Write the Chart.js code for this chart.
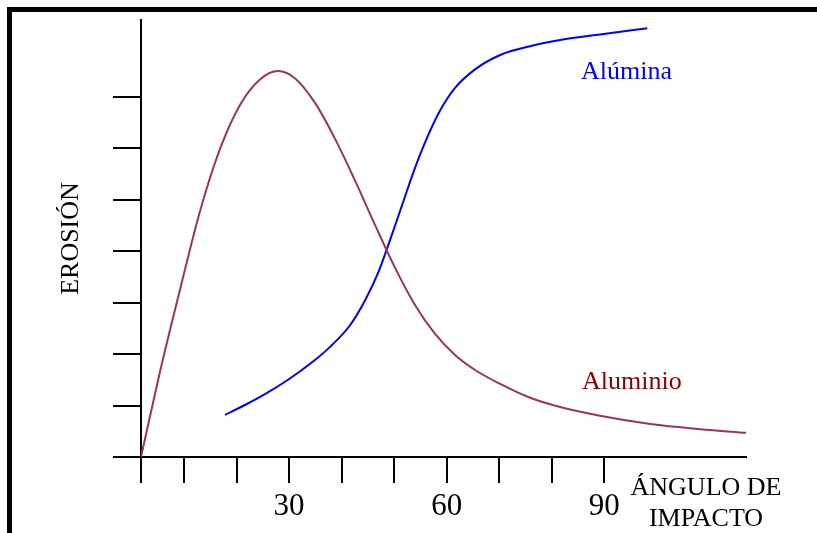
<!DOCTYPE html>
<html>
<head>
<meta charset="utf-8">
<script src="https://cdn.jsdelivr.net/npm/chart.js@4/dist/chart.umd.min.js"></script>
<style>
  html, body { margin: 0; padding: 0; background: #fff; overflow: hidden; }
  #frame { position: absolute; left: 7px; top: 7px; width: 900px; height: 700px;
           border-top: 5px solid #000; border-left: 5px solid #000; }
  #wrap { position: absolute; left: 0; top: 0; width: 817px; height: 533px; }
</style>
</head>
<body>
<div id="frame"></div>
<div id="wrap"><canvas id="myChart" width="817" height="533"></canvas></div>
<script>
// angle (x) and erosion (y, arbitrary units)
const aluminioX = [1.8, 5.4, 9.2, 13.1, 16.9, 20.7, 24.5, 27.9, 31.1, 35, 38.8, 42.6, 46.4, 50.2, 54,
                   57.8, 61.6, 65.4, 70.2, 75.9, 81.6, 89.2, 98.8, 108.3, 117];
const aluminioY = [0, 1.65, 3.24, 4.8, 6.0, 6.85, 7.34, 7.5, 7.36, 6.87, 6.17, 5.36, 4.5, 3.67, 2.95,
                   2.39, 1.98, 1.69, 1.42, 1.15, 0.97, 0.8, 0.64, 0.54, 0.47];

const aluminaX = [17.8, 21.6, 25.4, 29.8, 34, 37.8, 41.6, 44.5, 47, 49.2, 51.5, 53.8, 56.3, 58.8,
                  61.6, 65.4, 70.2, 75.9, 81.6, 89.2, 98.2];
const aluminaY = [0.82, 1.01, 1.22, 1.5, 1.81, 2.14, 2.56, 3.05, 3.59, 4.21, 4.89, 5.57, 6.21, 6.74,
                  7.17, 7.53, 7.81, 7.98, 8.1, 8.21, 8.33];

const xMin = 1.8;
const xMax = 117;
const yMin = 0;
const yMax = 8.49;
const xTickValues = [10, 20, 30, 40, 50, 60, 70, 80, 90];
const xTickLabels = ["30", "60", "90"];
const yTickValues = [1, 2, 3, 4, 5, 6, 7];

const serif = "'Liberation Serif', 'Times New Roman', serif";

const toPoints = (xs, ys) => xs.map((x, i) => ({ x: x, y: ys[i] }));

// free text on the chart: series names and the x axis title
const textPlugin = {
    id: "texts",
    afterDraw(chart) {
        const c = chart.ctx;
        c.save();
        c.font = "26px " + serif;
        c.textBaseline = "alphabetic";
        c.textAlign = "left";
        c.fillStyle = "#0000ff";
        c.fillText("Alúmina", 581, 79);
        c.fillStyle = "#8b0000";
        c.fillText("Aluminio", 582, 389);
        c.fillStyle = "#000";
        c.textAlign = "center";
        c.fillText("ÁNGULO DE", 706, 495);
        c.fillText("IMPACTO", 706, 526);
        c.restore();
    },
};

const axisGrid = (len) => ({
    drawOnChartArea: false,
    drawTicks: true,
    tickLength: len,
    color: "#000",
    lineWidth: 2,
});

new Chart(document.getElementById("myChart"), {
    type: "line",
    data: {
        datasets: [
            {
                label: "Aluminio",
                data: toPoints(aluminioX, aluminioY),
                borderColor: "#993366",
                borderWidth: 2,
                pointRadius: 0,
                cubicInterpolationMode: "monotone",
            },
            {
                label: "Alúmina",
                data: toPoints(aluminaX, aluminaY),
                borderColor: "#0000ff",
                borderWidth: 2,
                pointRadius: 0,
                cubicInterpolationMode: "monotone",
            },
        ],
    },
    options: {
        responsive: false,
        animation: false,
        layout: { padding: { top: 20, right: 71, left: 0, bottom: 0 } },
        plugins: { legend: { display: false }, tooltip: { enabled: false } },
        scales: {
            x: {
                type: "linear",
                min: xMin,
                max: xMax,
                border: { display: true, color: "#000", width: 2 },
                grid: axisGrid(26),
                afterBuildTicks: (scale) => {
                    scale.ticks = [xMin].concat(xTickValues).map((v) => ({ value: v }));
                },
                afterFit: (scale) => { scale.height = 76; },
                ticks: {
                    autoSkip: false,
                    maxRotation: 0,
                    padding: 5,
                    color: "#000",
                    font: { family: serif, size: 31 },
                    callback: (v) => (xTickLabels.includes(String(v)) ? String(v) : ""),
                },
            },
            y: {
                type: "linear",
                min: yMin,
                max: yMax,
                border: { display: true, color: "#000", width: 2 },
                grid: axisGrid(28),
                afterBuildTicks: (scale) => {
                    scale.ticks = [yMin].concat(yTickValues).map((v) => ({ value: v }));
                },
                afterFit: (scale) => { scale.width = 141; },
                ticks: { display: false },
                title: {
                    display: true,
                    text: "EROSIÓN",
                    color: "#000",
                    font: { family: serif, size: 26, lineHeight: 1 },
                    padding: { top: 58, bottom: 0 },
                },
            },
        },
    },
    plugins: [textPlugin],
});
</script>
</body>
</html>
